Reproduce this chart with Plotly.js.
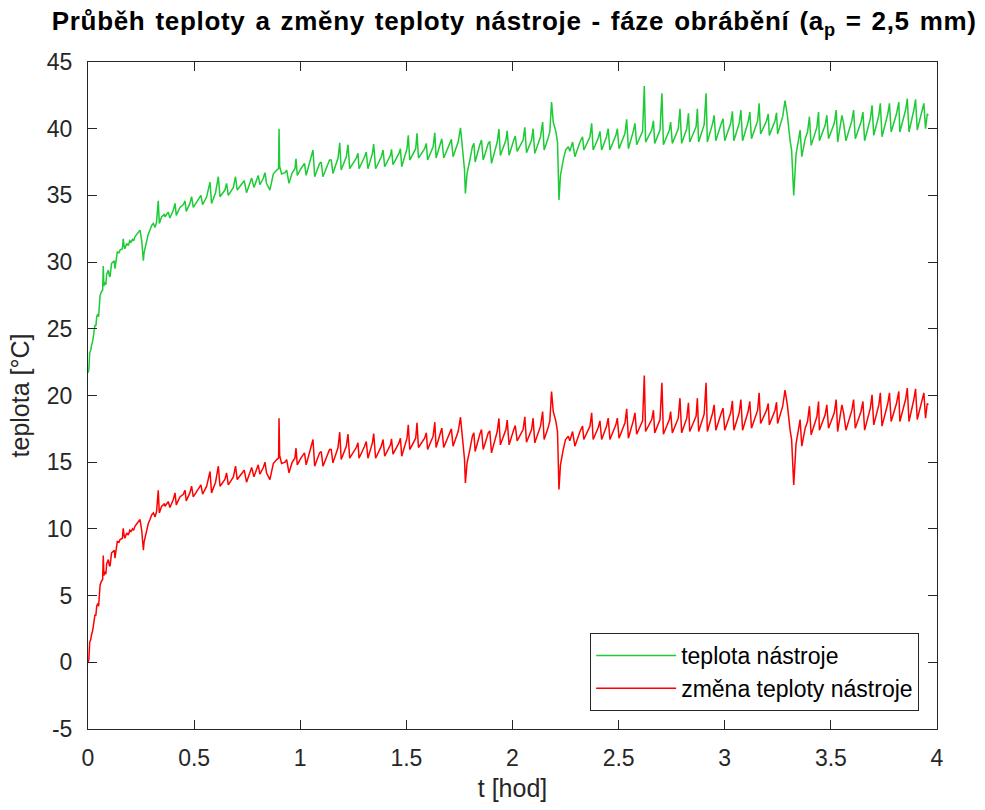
<!DOCTYPE html>
<html>
<head>
<meta charset="utf-8">
<script src="https://cdn.plot.ly/plotly-3.0.1.min.js"></script>
<style>
html,body{margin:0;padding:0;background:#fff;}
#chart{width:985px;height:810px;}
.gtitle{letter-spacing:0.7px;word-spacing:2px;}
</style>
</head>
<body>
<div id="chart"></div>
<script>
// time [hod]
const tHod = [
0,0.004,0.008,0.013,0.017,0.021,0.025,0.029,0.033,0.037,0.041,0.046,0.05,0.053,0.057,0.064,0.069,0.072,0.075,0.08,
0.084,0.088,0.096,0.1,0.104,0.111,0.12,0.124,0.127,0.133,0.138,0.146,0.151,0.162,0.166,0.17,0.174,0.182,0.19,0.197,
0.203,0.21,0.215,0.221,0.229,0.237,0.245,0.253,0.257,0.261,0.264,0.268,0.276,0.284,0.292,0.3,0.308,0.316,0.323,0.331,
0.336,0.347,0.355,0.36,
0.363,0.378,0.386,0.402,0.41,0.416,0.433,0.449,0.457,0.463,0.48,0.488,0.496,0.52,0.532,0.54,0.559,0.575,0.582,0.601,
0.614,0.622,0.645,0.653,0.661,0.685,0.695,0.703,0.724,0.736,0.747,0.763,0.771,0.782,0.794,0.802,0.81,0.826,0.834,0.841,
0.857,0.873,0.889,0.898,0.9,0.903,0.912,0.928,0.936,0.947,0.962,0.975,0.98,0.986,1.003,1.014,
1.02,1.028,1.06,1.068,1.091,1.099,1.107,1.138,1.146,1.154,1.178,1.186,1.193,1.217,1.225,1.233,1.264,1.272,1.277,1.303,
1.311,1.319,1.34,1.346,1.355,1.382,1.39,1.398,1.425,1.43,1.437,1.465,1.472,1.478,1.503,1.509,1.516,1.544,1.55,1.557,
1.586,1.594,1.6,1.626,1.634,1.64,1.66,1.667,1.676,1.704,1.712,1.72,1.744,1.755,1.767,1.774,1.778,1.786,1.799,1.811,
1.818,1.824,1.846,1.854,1.862,1.886,1.893,1.901,1.928,1.936,1.943,1.969,1.975,1.984,2.006,2.013,2.022,
2.05,2.058,2.066,2.09,2.097,2.105,2.132,2.142,2.149,2.168,2.176,2.184,2.192,2.204,2.212,2.219,2.226,2.239,2.25,2.263,
2.27,2.283,2.294,2.318,2.33,2.336,2.365,2.373,2.38,2.404,2.412,2.42,2.443,2.451,2.459,2.487,2.494,2.502,2.53,2.538,
2.546,2.569,2.577,2.585,2.613,2.621,2.627,2.656,2.664,2.67,2.695,2.704,2.711,2.739,2.745,2.753,2.781,2.789,2.797,2.821,
2.829,2.835,2.865,2.871,2.877,2.903,2.912,2.918,2.943,2.95,2.958,
2.984,2.992,3.0,3.028,3.036,3.043,3.068,3.076,3.084,3.11,3.118,3.126,3.155,3.162,3.169,3.197,3.205,3.21,3.237,3.244,
3.249,3.273,3.284,3.295,3.308,3.315,3.325,3.336,3.347,3.355,3.363,3.379,3.39,3.399,3.407,3.434,3.442,3.446,3.473,3.481,
3.489,3.516,3.525,3.532,3.552,3.56,3.571,3.599,3.607,3.615,3.642,3.651,3.659,3.686,3.694,3.702,3.726,3.733,3.741,3.768,
3.776,3.784,3.809,3.82,3.825,3.852,3.86,3.868,3.891,3.899,3.907,3.931,3.938,3.946,3.954,3.959
];

// teplota nástroje [°C]
const teplotaNastroje = [
21.7,21.9,23.2,23.4,23.8,24.0,24.4,24.9,25.3,25.2,25.9,26.1,25.9,26.6,27.5,27.8,27.9,29.7,28.2,28.5,
28.3,29.1,29.4,29.0,28.9,29.9,30.1,30.1,29.5,30.4,30.75,30.7,30.9,31.0,31.75,31.2,31.0,31.4,31.25,31.6,
31.5,31.7,31.6,31.9,32.1,32.25,32.4,31.6,30.8,30.1,30.7,31.0,31.6,32.1,32.4,32.75,32.9,32.6,33.0,34.6,
32.9,33.4,33.5,33.6,
33.4,33.75,33.3,33.9,34.4,33.5,34.1,34.3,34.6,33.8,34.4,34.9,34.1,34.7,35.0,34.3,34.9,36.0,34.4,35.2,
36.4,34.9,35.4,35.9,35.0,35.6,36.4,35.4,35.9,36.1,35.2,36.0,36.3,35.6,36.2,36.5,35.8,36.3,36.7,35.9,
35.4,36.6,36.9,37.0,40.0,37.2,36.6,36.7,36.9,35.9,36.7,37.0,37.75,36.5,37.0,37.25,
37.4,36.5,38.4,36.4,37.4,37.5,36.4,37.65,37.65,36.65,37.8,38.95,36.9,37.9,38.8,37.0,37.8,38.15,37.0,37.9,
38.25,37.0,38.15,38.85,37.0,37.9,38.4,37.15,38.0,38.45,37.3,38.15,38.5,37.15,38.5,39.5,37.65,38.5,39.65,37.8,
38.5,38.9,37.65,38.65,39.7,37.8,39.0,39.25,37.8,38.9,39.2,37.9,39.0,40.07,38.15,36.9,35.15,36.65,37.65,38.65,
38.9,37.5,38.8,39.15,37.65,38.9,39.05,37.4,39.0,39.98,38.0,39.15,39.85,38.0,39.15,39.45,38.3,
39.15,40.1,38.2,39.15,40.0,38.15,39.4,40.5,38.4,39.3,39.8,42.0,40.5,39.8,39.0,34.65,36.5,37.65,38.4,38.65,
38.3,39.0,37.9,39.0,39.4,38.4,39.4,40.4,38.4,39.3,39.8,38.4,39.4,40.0,38.4,39.5,40.0,38.5,39.65,40.7,
38.5,39.8,40.4,38.8,39.8,43.2,39.0,39.9,40.6,38.9,39.9,42.65,38.8,39.9,40.5,38.9,40.0,41.5,38.9,40.0,
41.15,39.0,40.15,41.5,39.0,40.3,42.65,39.0,40.4,41.0,39.1,
40.4,40.75,39.1,40.4,41.3,39.1,40.4,41.4,39.1,40.5,41.25,39.25,40.6,41.9,39.6,40.6,41.1,39.5,40.6,41.2,
39.6,40.9,42.1,41.0,39.1,38.4,35.0,38.1,39.1,39.9,37.9,39.25,39.75,40.9,38.75,40.1,41.25,39.1,40.25,41.0,
39.25,40.4,41.4,39.0,41.0,40.4,39.1,40.6,41.4,39.25,40.5,41.25,39.1,40.75,41.75,39.5,41.0,41.9,39.4,41.1,
41.9,39.75,41.1,42.0,39.75,41.4,42.25,39.75,41.4,42.2,39.9,41.4,41.9,40.0,41.1,41.0
];

// změna teploty nástroje [°C]
const zmenaTeploty = [
0,0.2,1.5,1.7,2.1,2.3,2.7,3.2,3.6,3.5,4.2,4.4,4.2,4.9,5.8,6.1,6.2,8.0,6.5,6.8,
6.6,7.4,7.7,7.3,7.2,8.2,8.4,8.4,7.8,8.7,9.05,9.0,9.2,9.3,10.05,9.5,9.3,9.7,9.55,9.9,
9.8,10.0,9.9,10.2,10.4,10.55,10.7,9.9,9.1,8.4,9.0,9.3,9.9,10.4,10.7,11.05,11.2,10.9,11.3,12.9,
11.2,11.7,11.8,11.9,
11.7,12.05,11.6,12.2,12.7,11.8,12.4,12.6,12.9,12.1,12.7,13.2,12.4,13.0,13.3,12.6,13.2,14.3,12.7,13.5,
14.7,13.2,13.7,14.2,13.3,13.9,14.7,13.7,14.2,14.4,13.5,14.3,14.6,13.9,14.5,14.8,14.1,14.6,15.0,14.2,
13.7,14.9,15.2,15.3,18.3,15.5,14.9,15.0,15.2,14.2,15.0,15.3,16.05,14.8,15.3,15.55,
15.7,14.8,16.7,14.7,15.7,15.8,14.7,15.95,15.95,14.95,16.1,17.25,15.2,16.2,17.1,15.3,16.1,16.45,15.3,16.2,
16.55,15.3,16.45,17.15,15.3,16.2,16.7,15.45,16.3,16.75,15.6,16.45,16.8,15.45,16.8,17.8,15.95,16.8,17.95,16.1,
16.8,17.2,15.95,16.95,18.0,16.1,17.3,17.55,16.1,17.2,17.5,16.2,17.3,18.37,16.45,15.2,13.45,14.95,15.95,16.95,
17.2,15.8,17.1,17.45,15.95,17.2,17.35,15.7,17.3,18.28,16.3,17.45,18.15,16.3,17.45,17.75,16.6,
17.45,18.4,16.5,17.45,18.3,16.45,17.7,18.8,16.7,17.6,18.1,20.3,18.8,18.1,17.3,12.95,14.8,15.95,16.7,16.95,
16.6,17.3,16.2,17.3,17.7,16.7,17.7,18.7,16.7,17.6,18.1,16.7,17.7,18.3,16.7,17.8,18.3,16.8,17.95,19.0,
16.8,18.1,18.7,17.1,18.1,21.5,17.3,18.2,18.9,17.2,18.2,20.95,17.1,18.2,18.8,17.2,18.3,19.8,17.2,18.3,
19.45,17.3,18.45,19.8,17.3,18.6,20.95,17.3,18.7,19.3,17.4,
18.7,19.05,17.4,18.7,19.6,17.4,18.7,19.7,17.4,18.8,19.55,17.55,18.9,20.2,17.9,18.9,19.4,17.8,18.9,19.5,
17.9,19.2,20.4,19.3,17.4,16.7,13.3,16.4,17.4,18.2,16.2,17.55,18.05,19.2,17.05,18.4,19.55,17.4,18.55,19.3,
17.55,18.7,19.7,17.3,19.3,18.7,17.4,18.9,19.7,17.55,18.8,19.55,17.4,19.05,20.05,17.8,19.3,20.2,17.7,19.4,
20.2,18.05,19.4,20.3,18.05,19.7,20.55,18.05,19.7,20.5,18.2,19.7,20.2,18.3,19.4,19.3
];

const xTickVals = [0,0.5,1,1.5,2,2.5,3,3.5,4];
const xTickText = ['0','0.5','1','1.5','2','2.5','3','3.5','4'];
const yTickVals = [-5,0,5,10,15,20,25,30,35,40,45];
const yTickText = ['-5','0','5','10','15','20','25','30','35','40','45'];
const seriesNames = ['teplota nástroje','změna teploty nástroje'];

const FONT = 'Liberation Sans, Arial, sans-serif';
const AX = '#262626';

const traces = [
  {x: tHod, y: teplotaNastroje, type: 'scatter', mode: 'lines', name: seriesNames[0],
   legendgroup: 'g1', line: {color: '#1ccb35', width: 1.5}},
  {x: tHod, y: zmenaTeploty, type: 'scatter', mode: 'lines', name: seriesNames[1],
   legendgroup: 'g2', line: {color: '#ff0000', width: 1.5}}
];

const axisCommon = {
  showgrid: false, zeroline: false, showline: true, linecolor: AX, linewidth: 1,
  mirror: 'ticks', ticks: 'inside', ticklen: 9, tickcolor: AX, tickwidth: 1,
  tickfont: {family: FONT, size: 23, color: AX}
};

const layout = {
  width: 985, height: 810,
  margin: {l: 88, r: 48, t: 62, b: 81},
  paper_bgcolor: '#ffffff', plot_bgcolor: '#ffffff',
  showlegend: true,
  title: {
    text: '<b>Průběh teploty a změny teploty nástroje - fáze obrábění (a<sub>p</sub> = 2,5 mm)</b>',
    font: {family: FONT, size: 26, color: '#000'},
    xref: 'paper', x: 0.502, xanchor: 'center',
    yref: 'container', y: 0.974, yanchor: 'middle'
  },
  xaxis: Object.assign({}, axisCommon, {
    range: [0, 4], tickmode: 'array', tickvals: xTickVals, ticktext: xTickText,
    ticklabelstandoff: 8,
    title: {text: 't [hod]', font: {family: FONT, size: 25, color: AX}, standoff: 9}
  }),
  yaxis: Object.assign({}, axisCommon, {
    range: [-5, 45], tickmode: 'array', tickvals: yTickVals, ticktext: yTickText,
    ticklabelstandoff: 10,
    title: {text: 'teplota [°C]', font: {family: FONT, size: 25, color: AX}, standoff: 10}
  }),
  legend: {
    x: 0.979, xanchor: 'right', y: 0.027, yanchor: 'bottom',
    bgcolor: '#ffffff', bordercolor: AX, borderwidth: 1,
    font: {family: FONT, size: 23, color: '#000'},
    itemwidth: 80, tracegroupgap: 0
  }
};

Plotly.newPlot('chart', traces, layout, {displayModeBar: false, staticPlot: true});
</script>
</body>
</html>
